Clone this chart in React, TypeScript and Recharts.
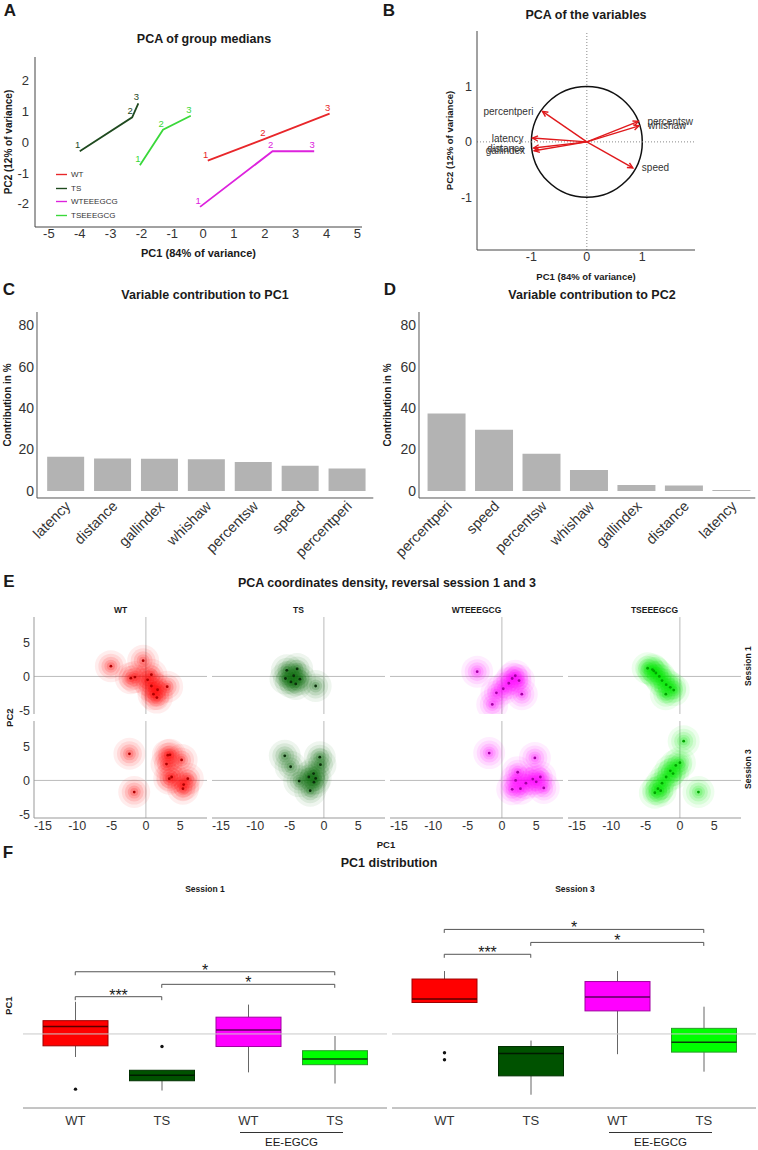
import React from "react";
import {
  Bar,
  BarChart,
  ComposedChart,
  LabelList,
  Legend,
  Line,
  LineChart,
  ReferenceArea,
  ReferenceDot,
  ReferenceLine,
  Scatter,
  ScatterChart,
  XAxis,
  YAxis,
} from "recharts";

const FONT = '"Liberation Sans", Arial, Helvetica, sans-serif';
const INK = "#1a1a1a";
const TICK = "#333";

// ---- A: group medians per session
const sessionTags = ["1", "2", "3"];
const groupNames = ["WT", "TS", "WTEEEGCG", "TSEEEGCG"];
const wtMedPC1 = [0.15, 2.0, 4.1];
const wtMedPC2 = [-0.6, 0.1, 0.92];
const tsMedPC1 = [-4.0, -2.3, -2.1];
const tsMedPC2 = [-0.3, 0.8, 1.25];
const wtEeMedPC1 = [-0.1, 2.25, 3.6];
const wtEeMedPC2 = [-2.1, -0.3, -0.3];
const tsEeMedPC1 = [-2.05, -1.3, -0.4];
const tsEeMedPC2 = [-0.75, 0.4, 0.85];
const medTicksX = [-5, -4, -3, -2, -1, 0, 1, 2, 3, 4, 5];
const medTicksY = [-2, -1, 0, 1, 2];

// ---- B: variable loadings
const varNames = ["percentperi", "latency", "distance", "gallindex", "percentsw", "whishaw", "speed"];
const loadPC1 = [-0.8, -0.98, -0.96, -0.95, 0.93, 0.94, 0.83];
const loadPC2 = [0.55, 0.07, -0.11, -0.16, 0.37, 0.29, -0.47];
const loadSide = ["left", "left", "left", "left", "right", "right", "right"];
const unitTicks = [-1, 0, 1];

// ---- C / D: contributions
const pc1Vars = ["latency", "distance", "gallindex", "whishaw", "percentsw", "speed", "percentperi"];
const pc1Contrib = [16.5, 15.6, 15.5, 15.3, 14.0, 12.1, 10.8];
const pc2Vars = ["percentperi", "speed", "percentsw", "whishaw", "gallindex", "distance", "latency"];
const pc2Contrib = [37.3, 29.5, 17.9, 10.1, 2.9, 2.6, 0.4];
const contribTicks = [0, 20, 40, 60, 80];

// ---- E: individual coordinates, sessions 1 and 3
const wtS1X = [-5.1, -0.4, -2.2, -1.6, 0.8, 0.25, 0.8, 1.7, 1.1, 1.6, 3.1];
const wtS1Y = [1.5, 2.3, -0.25, -0.1, 0.25, -0.5, -1.4, -1.95, -2.6, -3.1, -1.5];
const wtS3X = [-2.4, -1.7, 3.2, 3.5, 3.0, 5.2, 3.4, 3.75, 6.1, 5.5, 5.4];
const wtS3Y = [3.9, -1.7, 3.7, 3.75, 2.4, 3.0, 0.25, 0.5, 0.25, -0.6, -1.2];
const tsS1X = [-5.4, -3.9, -4.8, -3.5, -4.4, -5.6, -4.1, -1.2];
const tsS1Y = [0.9, 1.1, -0.8, -0.4, 0.1, -0.3, -1.1, -1.4];
const tsS3X = [-5.7, -4.85, -3.6, -1.45, -2.0, -0.6, -0.5, -1.5, -1.2, -2.2];
const tsS3Y = [3.6, 2.0, -0.1, -0.25, -1.5, 3.4, 2.3, 1.0, 0.3, 0.5];
const wtEeS1X = [-3.6, 1.95, 2.5, 2.9, -1.4, 0.2, 1.0, -0.8, 1.5];
const wtEeS1Y = [0.7, 0.1, -0.6, -2.6, -4.1, -1.8, -1.0, -2.4, -0.3];
const wtEeS3X = [-1.85, 4.8, 2.3, 5.6, 6.1, 1.5, 2.7, 3.5, 4.5, 2.0, 5.0];
const wtEeS3Y = [4.0, 3.3, 1.2, 0.5, -1.1, -1.3, -1.2, -0.4, 0.2, 0.0, -0.2];
const tsEeS1X = [-4.7, -4.0, -3.5, -3.0, -2.6, -2.0, -1.4, -0.9, -2.05, -3.8];
const tsEeS1Y = [1.2, 1.0, 0.5, 0.0, -0.6, -1.2, -1.6, -2.0, -2.6, 0.8];
const tsEeS3X = [0.55, 2.7, -3.65, -3.2, -2.6, -2.0, -1.4, -0.6, 0.0, -1.0, -2.8];
const tsEeS3Y = [5.75, -1.7, -1.8, -1.2, -0.4, 0.5, 1.4, 2.2, 2.6, 1.0, -1.5];
const densTicksX = [-15, -10, -5, 0, 5];
const densTicksY = [-5, 0, 5];

// ---- F: PC1 box plots
const boxGroups = ["WT", "TS", "WTEE", "TSEE"];
const boxTickText = ["WT", "TS", "WT", "TS"];
const s1Low = [-3.3, -8.1, -5.5, -7.1];
const s1Q1 = [-1.7, -6.7, -1.8, -4.4];
const s1Median = [1.05, -5.9, 0.57, -3.6];
const s1Q3 = [1.9, -5.2, 2.4, -2.4];
const s1High = [4.6, -5.2, 4.2, -0.3];
const s1Outliers = [[-7.9], [-1.8], [], []];
const s3Low = [4.5, -8.7, -2.9, -5.4];
const s3Q1 = [4.5, -6.0, 3.3, -2.6];
const s3Median = [5.0, -2.8, 5.3, -1.2];
const s3Q3 = [7.86, -1.8, 7.5, 0.8];
const s3High = [9.0, -0.95, 9.0, 3.9];
const s3Outliers = [[-2.7, -3.7], [], [], []];
const s1Brackets = [
  { from: "WT", to: "TSEE", y: 8.9, mark: "*" },
  { from: "TS", to: "TSEE", y: 7.1, mark: "*" },
  { from: "WT", to: "TS", y: 5.33, mark: "***" },
];
const s3Brackets = [
  { from: "WT", to: "TSEE", y: 14.96, mark: "*" },
  { from: "TS", to: "TSEE", y: 13.1, mark: "*" },
  { from: "WT", to: "TS", y: 11.4, mark: "***" },
];

// colours
const GROUP_LINE = ["#e8262a", "#1f4a1f", "#dd22dd", "#3ad83a"];
const DENS_FILL = ["#ff0000", "#0b6b0b", "#ff00ff", "#00ea00"];
const DENS_DOT = ["#b00000", "#0a2e0a", "#a400a4", "#00a400"];
const BOX_FILL = ["#ff0000", "#005200", "#ff00ff", "#00ff00"];
const BOX_EDGE = ["#a00000", "#003000", "#a000a0", "#2a9a2a"];
const BOX_MED = ["#5a0000", "#001a00", "#5a005a", "#0a3a0a"];
const ARROW = "#e0191c";

const toPts = (xs: number[], ys: number[]) => xs.map((x, i) => ({ x, y: ys[i], s: sessionTags[i] }));

const medGroups = [
  { name: groupNames[0], pts: toPts(wtMedPC1, wtMedPC2) },
  { name: groupNames[1], pts: toPts(tsMedPC1, tsMedPC2) },
  { name: groupNames[2], pts: toPts(wtEeMedPC1, wtEeMedPC2) },
  { name: groupNames[3], pts: toPts(tsEeMedPC1, tsEeMedPC2) },
];

const loadings = varNames.map((n, i) => ({ name: n, x: loadPC1[i], y: loadPC2[i], side: loadSide[i] }));

const densSets = [
  [toPts(wtS1X, wtS1Y), toPts(tsS1X, tsS1Y), toPts(wtEeS1X, wtEeS1Y), toPts(tsEeS1X, tsEeS1Y)],
  [toPts(wtS3X, wtS3Y), toPts(tsS3X, tsS3Y), toPts(wtEeS3X, wtEeS3Y), toPts(tsEeS3X, tsEeS3Y)],
];

const boxRows = (lo: number[], q1: number[], med: number[], q3: number[], hi: number[], out: number[][]) =>
  boxGroups.map((g, i) => ({ g, idx: i, lo: lo[i], q1: q1[i], med: med[i], q3: q3[i], hi: hi[i], out: out[i] }));

const s1Rows = boxRows(s1Low, s1Q1, s1Median, s1Q3, s1High, s1Outliers);
const s3Rows = boxRows(s3Low, s3Q1, s3Median, s3Q3, s3High, s3Outliers);

function Txt({ x, y, size, bold, rotate, color, children }: any) {
  return (
    <div
      style={{
        position: "absolute",
        left: x - 200,
        top: y - size * 0.6,
        width: 400,
        textAlign: "center",
        fontSize: size,
        lineHeight: `${size * 1.2}px`,
        fontWeight: bold ? 700 : 400,
        color: color || INK,
        whiteSpace: "nowrap",
        transform: rotate ? `rotate(${rotate}deg)` : undefined,
      }}
    >
      {children}
    </div>
  );
}

// ---------------- A ----------------
const A_X = [-5.45, 5.15];
const A_Y = [-2.75, 2.75];

const numLabel = (color: string) => (p: any) => (
  <text x={p.x - 2} y={p.y - 3} fill={color} fontSize={9.5} textAnchor="middle">
    {p.value}
  </text>
);

function PanelA() {
  return (
    <>
      <Txt x={10} y={11} size={17} bold>A</Txt>
      <Txt x={204} y={39} size={12.5} bold>PCA of group medians</Txt>
      <div style={{ position: "absolute", left: 0, top: 47 }}>
        <LineChart width={370} height={223} margin={{ top: 10, right: 8, bottom: 13, left: 0 }}>
          <XAxis
            type="number"
            dataKey="x"
            domain={A_X}
            ticks={medTicksX}
            interval={0}
            allowDataOverflow
            height={30}
            tickLine={false}
            tickSize={0}
            tickMargin={2}
            axisLine={{ stroke: "#444" }}
            tick={{ fontSize: 13, fill: TICK }}
            label={{ value: "PC1 (84% of variance)", position: "insideBottom", offset: 0, fontSize: 11, fontWeight: 700, fill: INK }}
          />
          <XAxis xAxisId="top" orientation="top" type="number" domain={A_X} allowDataOverflow height={0} tick={false} tickLine={false} axisLine={{ stroke: "#aaa" }} />
          <YAxis
            type="number"
            domain={A_Y}
            ticks={medTicksY}
            interval={0}
            allowDataOverflow
            width={35}
            tickLine={false}
            tickSize={0}
            tickMargin={6}
            axisLine={{ stroke: "#444" }}
            tick={{ fontSize: 13, fill: TICK }}
            label={{ value: "PC2 (12% of variance)", angle: -90, position: "insideLeft", offset: 8, fontSize: 10, fontWeight: 700, fill: INK, style: { textAnchor: "middle" } }}
          />
          <YAxis yAxisId="right" orientation="right" type="number" domain={A_Y} allowDataOverflow width={0} tick={false} tickLine={false} axisLine={{ stroke: "#aaa" }} />
          {medGroups.map((g, i) => (
            <Line key={g.name} name={g.name} data={g.pts} dataKey="y" stroke={GROUP_LINE[i]} strokeWidth={1.8} dot={false} isAnimationActive={false}>
              <LabelList dataKey="s" content={numLabel(GROUP_LINE[i])} />
            </Line>
          ))}
          <Legend
            layout="vertical"
            align="center"
            verticalAlign="middle"
            iconType="plainline"
            iconSize={11}
            itemSorter={(item: any) => groupNames.indexOf(item.value)}
            wrapperStyle={{ left: 56, top: 121, width: "auto", fontSize: 8, lineHeight: "13.5px" }}
            formatter={(v: any) => <span style={{ color: "#333" }}>{v}</span>}
          />
        </LineChart>
      </div>
    </>
  );
}

// ---------------- B ----------------
const B_X = [-1.98, 1.95];
const B_Y = [-1.95, 2.0];

const UnitCircle = (p: any) => (
  <ellipse cx={p.x + p.width / 2} cy={p.y + p.height / 2} rx={p.width / 2} ry={p.height / 2} fill="none" stroke="#111" strokeWidth={1.5} />
);

const ArrowShape = (p: any) => {
  const { x1, y1, x2, y2 } = p;
  const a = Math.atan2(y2 - y1, x2 - x1);
  const h = 6;
  const s = 0.45;
  return (
    <g>
      <line x1={x1} y1={y1} x2={x2} y2={y2} stroke={ARROW} strokeWidth={1.4} />
      <path
        d={`M${x2 - h * Math.cos(a - s)},${y2 - h * Math.sin(a - s)} L${x2},${y2} L${x2 - h * Math.cos(a + s)},${y2 - h * Math.sin(a + s)}`}
        fill="none"
        stroke={ARROW}
        strokeWidth={1.4}
      />
    </g>
  );
};

function PanelB() {
  return (
    <>
      <Txt x={389} y={11} size={17} bold>B</Txt>
      <Txt x={586} y={15} size={12.5} bold>PCA of the variables</Txt>
      <div style={{ position: "absolute", left: 380, top: 20 }}>
        <ScatterChart width={378} height={262} margin={{ top: 11, right: 63, bottom: 0, left: 57 }}>
          <XAxis
            type="number"
            dataKey="x"
            domain={B_X}
            ticks={unitTicks}
            allowDataOverflow
            height={32}
            tickLine={false}
            tickSize={0}
            tickMargin={2}
            axisLine={{ stroke: "#444" }}
            tick={{ fontSize: 12.5, fill: TICK }}
            label={{ value: "PC1 (84% of variance)", position: "insideBottom", offset: 2, fontSize: 9.5, fontWeight: 700, fill: INK }}
          />
          <XAxis xAxisId="top" orientation="top" type="number" domain={B_X} allowDataOverflow height={0} tick={false} tickLine={false} axisLine={{ stroke: "#444" }} />
          <YAxis
            type="number"
            dataKey="y"
            domain={B_Y}
            ticks={unitTicks}
            allowDataOverflow
            width={40}
            tickLine={false}
            tickSize={0}
            tickMargin={5}
            axisLine={{ stroke: "#444" }}
            tick={{ fontSize: 12.5, fill: TICK }}
            label={{ value: "PC2 (12% of variance)", angle: -90, position: "insideLeft", offset: 13, fontSize: 9.5, fontWeight: 700, fill: INK, style: { textAnchor: "middle" } }}
          />
          <YAxis yAxisId="right" orientation="right" type="number" domain={B_Y} allowDataOverflow width={0} tick={false} tickLine={false} axisLine={{ stroke: "#444" }} />
          <ReferenceLine x={0} stroke="#888" strokeDasharray="1 2" />
          <ReferenceLine y={0} stroke="#888" strokeDasharray="1 2" />
          <ReferenceArea x1={-1} x2={1} y1={-1} y2={1} shape={UnitCircle} />
          {loadings.map((l) => (
            <ReferenceLine key={l.name} segment={[{ x: 0, y: 0 }, { x: l.x, y: l.y }]} shape={ArrowShape} />
          ))}
          {loadings.map((l) => (
            <ReferenceDot
              key={l.name + "-lab"}
              x={l.x}
              y={l.y}
              r={0}
              stroke="none"
              label={{ value: l.name, position: l.side, offset: 9, fontSize: 10, fill: "#333" }}
            />
          ))}
          <Scatter data={loadings} shape={() => <g />} isAnimationActive={false} />
        </ScatterChart>
      </div>
    </>
  );
}

// ---------------- C / D ----------------
const C_Y = [-3.4, 86.3];

const SlantTick = (p: any) => {
  const x = p.x + 6;
  const y = p.y + 9;
  return (
    <text x={x} y={y} transform={`rotate(-45, ${x}, ${y})`} textAnchor="end" fontSize={14.5} fill={TICK}>
      {p.payload.value}
    </text>
  );
};

function ContribPanel({ left, letter, letterX, title, titleX, names, values, yW, right, pad, gap }: any) {
  const rows = names.map((n: string, i: number) => ({ name: n, value: values[i] }));
  return (
    <>
      <Txt x={letterX} y={290} size={17} bold>{letter}</Txt>
      <Txt x={titleX} y={295} size={12.5} bold>{title}</Txt>
      <div style={{ position: "absolute", left, top: 305 }}>
        <BarChart width={yW + 336.3 + right} height={255} data={rows} margin={{ top: 7, right, bottom: 0, left: 0 }} barCategoryGap={gap}>
          <XAxis dataKey="name" interval={0} height={62} tickLine={false} tickSize={0} tickMargin={0} axisLine={{ stroke: "#555" }} tick={<SlantTick />} padding={pad} />
          <XAxis xAxisId="top" orientation="top" dataKey="name" height={0} tick={false} tickLine={false} axisLine={{ stroke: "#aaa" }} padding={pad} />
          <YAxis
            type="number"
            domain={C_Y}
            ticks={contribTicks}
            interval={0}
            allowDataOverflow
            width={yW}
            tickLine={false}
            tickSize={0}
            tickMargin={3}
            axisLine={{ stroke: "#555" }}
            tick={{ fontSize: 14, fill: TICK }}
            label={{ value: "Contribution in %", angle: -90, position: "insideLeft", offset: 7, fontSize: 10, fontWeight: 700, fill: INK, style: { textAnchor: "middle" } }}
          />
          <YAxis yAxisId="right" orientation="right" type="number" domain={C_Y} allowDataOverflow width={0} tick={false} tickLine={false} axisLine={{ stroke: "#aaa" }} />
          <Bar dataKey="value" fill="#b3b3b3" isAnimationActive={false} />
        </BarChart>
      </div>
    </>
  );
}

// ---------------- E ----------------
const E_X = [-16.3, 8.9];
const E_Y = [-5.5, 8.7];
const CELL_W = 173;
const CELL_H = 97;
const CELL_LEFT = [34, 212, 390, 568];
const CELL_TOP = [617, 721];
const HALO = [16, 12.5, 9.5, 6.5, 4];
const HALO_ALPHA = [0.07, 0.09, 0.12, 0.15, 0.18];
const E_BORDER = "#999";

const haloShape = (color: string) => (p: any) => (
  <g>
    {HALO.map((r, i) => (
      <circle key={r} cx={p.cx} cy={p.cy} r={r} fill={color} fillOpacity={HALO_ALPHA[i]} />
    ))}
  </g>
);
const dotShape = (color: string) => (p: any) => <circle cx={p.cx} cy={p.cy} r={1.4} fill={color} />;

function DensityCell({ pts, gi, left, top, showX, showY }: any) {
  const yW = showY ? 31 : 0;
  const xH = showX ? 22 : 0;
  const extra = showX ? 0 : 8;
  return (
    <div style={{ position: "absolute", left: left - yW - 1, top: top - 1 }}>
      <ScatterChart width={CELL_W + yW + 2} height={CELL_H + xH + 2 + extra} margin={{ top: 1, right: 1, bottom: 1 + extra, left: 1 }}>
        <XAxis
          type="number"
          dataKey="x"
          domain={E_X}
          ticks={densTicksX}
          interval={0}
          allowDataOverflow
          height={xH}
          tickLine={false}
          tickSize={0}
          tickMargin={3}
          axisLine={{ stroke: E_BORDER }}
          tick={showX ? { fontSize: 12.5, fill: TICK } : false}
        />
        <XAxis xAxisId="top" orientation="top" type="number" domain={E_X} allowDataOverflow height={0} tick={false} tickLine={false} axisLine={{ stroke: E_BORDER }} />
        <YAxis
          type="number"
          dataKey="y"
          domain={E_Y}
          ticks={densTicksY}
          interval={0}
          allowDataOverflow
          width={yW}
          tickLine={false}
          tickSize={0}
          tickMargin={4}
          axisLine={{ stroke: E_BORDER }}
          tick={showY ? { fontSize: 12.5, fill: TICK } : false}
        />
        <YAxis yAxisId="right" orientation="right" type="number" domain={E_Y} allowDataOverflow width={0} tick={false} tickLine={false} axisLine={{ stroke: E_BORDER }} />
        <ReferenceLine x={0} stroke="#bbb" />
        <ReferenceLine y={0} stroke="#bbb" />
        <Scatter data={pts} shape={haloShape(DENS_FILL[gi])} isAnimationActive={false} />
        <Scatter data={pts} shape={dotShape(DENS_DOT[gi])} isAnimationActive={false} />
      </ScatterChart>
    </div>
  );
}

function PanelE() {
  return (
    <>
      <Txt x={9} y={582} size={17} bold>E</Txt>
      <Txt x={387} y={583} size={12.5} bold>PCA coordinates density, reversal session 1 and 3</Txt>
      {groupNames.map((s, i) => (
        <Txt key={s} x={CELL_LEFT[i] + CELL_W / 2} y={610} size={8.5} bold>{s}</Txt>
      ))}
      {densSets.map((row, r) =>
        row.map((pts, c) => (
          <DensityCell key={`${r}-${c}`} pts={pts} gi={c} left={CELL_LEFT[c]} top={CELL_TOP[r]} showX={r === 1} showY={c === 0} />
        ))
      )}
      <Txt x={748} y={666} size={8.5} bold rotate={-90}>Session 1</Txt>
      <Txt x={748} y={769} size={8.5} bold rotate={-90}>Session 3</Txt>
      <Txt x={10} y={718} size={9.5} bold rotate={-90}>PC2</Txt>
      <Txt x={386} y={845} size={9.5} bold>PC1</Txt>
    </>
  );
}

// ---------------- F ----------------
const F_Y = [-10.6, 19.6];
const F_BORDER = "#8a8a8a";

const BoxShape = (p: any) => {
  const { x, y, width, height, payload: d } = p;
  const span = d.hi - d.lo;
  const py = (v: number) => y + ((d.hi - v) / span) * height;
  const cx = x + width / 2;
  return (
    <g>
      <line x1={cx} x2={cx} y1={py(d.hi)} y2={py(d.q3)} stroke="#666" />
      <line x1={cx} x2={cx} y1={py(d.q1)} y2={py(d.lo)} stroke="#666" />
      <rect x={x} y={py(d.q3)} width={width} height={py(d.q1) - py(d.q3)} fill={BOX_FILL[d.idx]} stroke={BOX_EDGE[d.idx]} />
      <line x1={x} x2={x + width} y1={py(d.med)} y2={py(d.med)} stroke={BOX_MED[d.idx]} strokeWidth={1.5} />
      {d.out.map((v: number, i: number) => (
        <circle key={i} cx={cx} cy={py(v)} r={1.7} fill="#111" />
      ))}
    </g>
  );
};

const BracketShape = (p: any) => (
  <path d={`M${p.x1},${p.y1 + 3.5} V${p.y1} H${p.x2} V${p.y2 + 3.5}`} fill="none" stroke="#555" strokeWidth={1} />
);

function BoxPanel({ rows, brackets, left }: any) {
  return (
    <div style={{ position: "absolute", left: left - 23, top: 896 }}>
      <ComposedChart width={392} height={240} data={rows} margin={{ top: 1, right: 5, bottom: 0, left: 23 }}>
        <XAxis
          dataKey="g"
          interval={0}
          height={28}
          tickLine={false}
          tickSize={0}
          tickMargin={8}
          axisLine={{ stroke: F_BORDER }}
          padding={{ left: 9, right: 9 }}
          tickFormatter={(v: any, i: number) => boxTickText[i]}
          tick={{ fontSize: 13, fill: TICK }}
        />
        <XAxis xAxisId="top" orientation="top" dataKey="g" height={0} tick={false} tickLine={false} axisLine={{ stroke: F_BORDER }} padding={{ left: 9, right: 9 }} />
        <YAxis type="number" domain={F_Y} allowDataOverflow width={0} tick={false} tickLine={false} axisLine={{ stroke: F_BORDER }} />
        <YAxis yAxisId="right" orientation="right" type="number" domain={F_Y} allowDataOverflow width={0} tick={false} tickLine={false} axisLine={{ stroke: F_BORDER }} />
        <Bar dataKey={(d: any) => [d.lo, d.hi]} barSize={65} shape={BoxShape} isAnimationActive={false} />
        <ReferenceLine y={0} stroke="#c9c9c9" />
        {brackets.map((b: any) => (
          <ReferenceLine
            key={b.from + b.to}
            segment={[{ x: b.from, y: b.y }, { x: b.to, y: b.y }]}
            shape={BracketShape}
            label={{ value: b.mark, position: "top", offset: -4, fontSize: 16, fill: INK }}
          />
        ))}
      </ComposedChart>
    </div>
  );
}

function PanelF() {
  return (
    <>
      <Txt x={8} y={853} size={17} bold>F</Txt>
      <Txt x={389} y={863} size={12.5} bold>PC1 distribution</Txt>
      <Txt x={205} y={889} size={8.5} bold>Session 1</Txt>
      <Txt x={575} y={889} size={8.5} bold>Session 3</Txt>
      <Txt x={9} y={1006} size={9.5} bold rotate={-90}>PC1</Txt>
      <BoxPanel rows={s1Rows} brackets={s1Brackets} left={23} />
      <BoxPanel rows={s3Rows} brackets={s3Brackets} left={392} />
      <div style={{ position: "absolute", left: 240, top: 1132, width: 103, borderTop: "1px solid #333" }} />
      <Txt x={291.5} y={1143} size={11.5}>EE-EGCG</Txt>
      <div style={{ position: "absolute", left: 609, top: 1132, width: 103, borderTop: "1px solid #333" }} />
      <Txt x={660.5} y={1143} size={11.5}>EE-EGCG</Txt>
    </>
  );
}

export default function App() {
  return (
    <div
      style={{
        position: "absolute",
        left: 0,
        top: 0,
        width: 758,
        height: 1150,
        background: "#fff",
        fontFamily: FONT,
        color: INK,
        overflow: "hidden",
      }}
    >
      <PanelA />
      <PanelB />
      <ContribPanel
        left={0}
        letter="C"
        letterX={9}
        title="Variable contribution to PC1"
        titleX={205}
        names={pc1Vars}
        values={pc1Contrib}
        yW={37}
        right={7}
        pad={{ left: 5, right: 3 }}
        gap="11%"
      />
      <ContribPanel
        left={380}
        letter="D"
        letterX={390}
        title="Variable contribution to PC2"
        titleX={592}
        names={pc2Vars}
        values={pc2Contrib}
        yW={39}
        right={10}
        pad={{ left: 4, right: 0 }}
        gap="9.6%"
      />
      <PanelE />
      <PanelF />
    </div>
  );
}
